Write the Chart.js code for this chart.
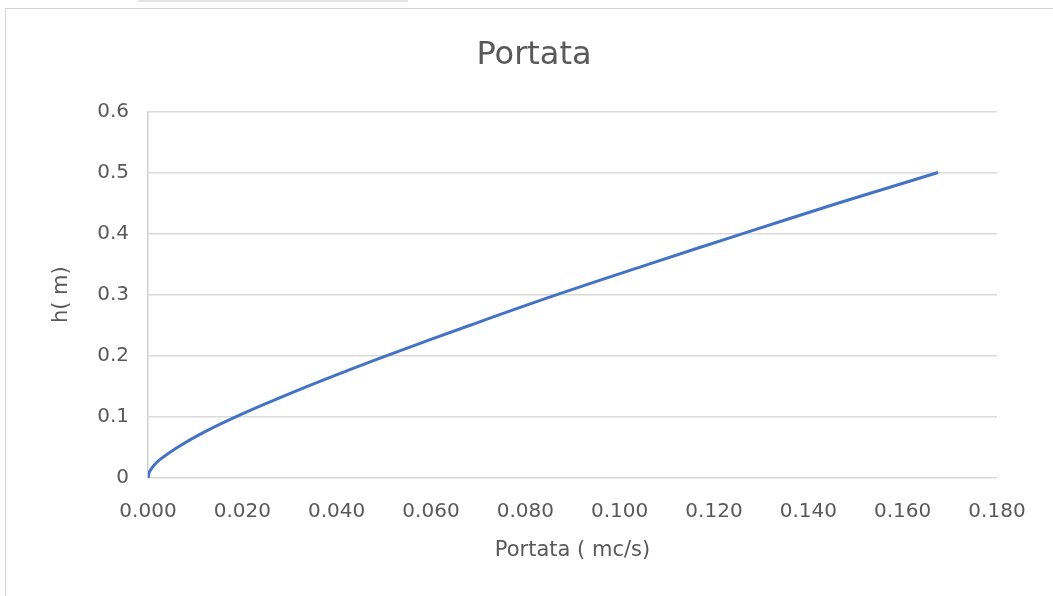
<!DOCTYPE html>
<html>
<head>
<meta charset="utf-8">
<script src="https://cdn.jsdelivr.net/npm/chart.js@4.4.0/dist/chart.umd.min.js"></script>
<style>
  html, body { margin: 0; padding: 0; background: #fff; }
  #wrap { position: relative; width: 1053px; height: 596px; overflow: hidden; }
  #frame { position: absolute; left: 5px; top: 8px; width: 1100px; height: 650px; border: 1px solid #d4d4d4; }
  #strip { position: absolute; left: 138px; top: 0; width: 270px; height: 2px; background: #e4e4e4; }
  #c { position: absolute; left: 0; top: 0; }
</style>
</head>
<body>
<div id="wrap">
  <div id="strip"></div>
  <div id="frame"></div>
  <canvas id="c" width="1053" height="596"></canvas>
</div>
<script>
// portata (mc/s) vs altezza h (m)
const portata = [0, 0.0003, 0.0012, 0.0025, 0.0062, 0.0119, 0.0186, 0.0260, 0.0338, 0.0420, 0.0505, 0.0683, 0.0867, 0.1062, 0.1261, 0.1464, 0.1675];
const altezza = [0, 0.01, 0.02, 0.03, 0.05, 0.075, 0.10, 0.125, 0.15, 0.175, 0.20, 0.25, 0.30, 0.35, 0.40, 0.45, 0.50];

const xTicks = [0, 0.02, 0.04, 0.06, 0.08, 0.10, 0.12, 0.14, 0.16, 0.18];
const yTicks = [0, 0.1, 0.2, 0.3, 0.4, 0.5, 0.6];

const points = portata.map((q, i) => ({ x: q, y: altezza[i] }));

const fontFam = "'DejaVu Sans', 'Open Sans', sans-serif";
const grey = '#595959';

const ctx = document.getElementById('c').getContext('2d');
const chart = new Chart(ctx, {
    type: 'scatter',
    data: {
        datasets: [{
            label: 'Portata',
            data: points,
            showLine: true,
            borderColor: '#4472c4',
            borderWidth: 3,
            pointRadius: 0,
            tension: 0.4,
            fill: false
        }]
    },
    options: {
        responsive: false,
        animation: false,
        layout: {
            padding: { left: 15, right: 0, top: 0, bottom: 0 }
        },
        scales: {
            x: {
                type: 'linear',
                min: 0,
                max: 0.18,
                afterBuildTicks: (s) => { s.ticks = xTicks.map(v => ({ value: v })); },
                afterFit: (s) => { s.height = 118; },
                grid: { display: false, drawTicks: false },
                border: { display: false },
                ticks: {
                    color: grey,
                    font: { family: fontFam, size: 20 },
                    padding: 22,
                    maxRotation: 0,
                    callback: (v) => v.toFixed(3)
                },
                title: {
                    display: true,
                    text: 'Portata ( mc/s)',
                    color: grey,
                    font: { family: fontFam, size: 21 },
                    padding: { top: 0, bottom: 33 }
                }
            },
            y: {
                type: 'linear',
                min: 0,
                max: 0.6,
                afterBuildTicks: (s) => { s.ticks = yTicks.map(v => ({ value: v })); },
                afterFit: (s) => { s.width = 133; },
                grid: { color: '#d9d9d9', lineWidth: 1.5, drawTicks: false },
                border: { display: true, color: '#d0d0d0', width: 1.5 },
                ticks: {
                    color: grey,
                    font: { family: fontFam, size: 20 },
                    padding: 19,
                    callback: (v) => v === 0 ? '0' : v.toFixed(1)
                },
                title: {
                    display: true,
                    text: 'h( m)',
                    color: grey,
                    font: { family: fontFam, size: 21 },
                    padding: { top: 34, bottom: 0 }
                }
            },
            // spazio vuoto a destra dell'area del grafico
            y2: {
                type: 'linear',
                position: 'right',
                display: true,
                afterFit: (s) => { s.width = 56; },
                grid: { display: false, drawTicks: false },
                border: { display: false },
                ticks: { display: false }
            }
        },
        plugins: {
            legend: { display: false },
            tooltip: { enabled: false },
            title: {
                display: true,
                text: 'Portata',
                color: grey,
                font: { family: fontFam, size: 32, weight: 'normal' },
                padding: { top: 36, bottom: 37 }
            }
        }
    }
});
</script>
</body>
</html>
